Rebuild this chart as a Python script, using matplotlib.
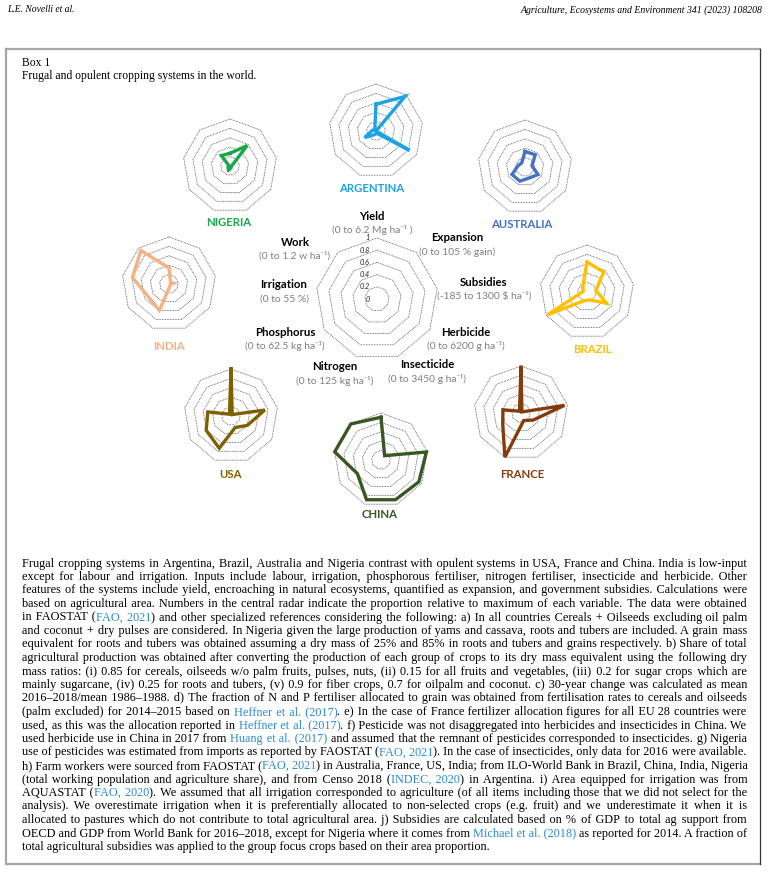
import numpy as np
import matplotlib
matplotlib.use("Agg")
import matplotlib.pyplot as plt
from matplotlib.font_manager import FontProperties
from matplotlib.transforms import offset_copy
from matplotlib.lines import Line2D

W, H = 771, 882
DPI = 100

# ---------------- data ----------------
variables = ["Yield", "Expansion", "Subsidies", "Herbicide", "Insecticide",
             "Nitrogen", "Phosphorus", "Irrigation", "Work"]
var_ranges = ["(0 to 6.2 Mg ha⁻¹ )", "(0 to 105 % gain)", "(-185 to 1300 $ ha⁻¹)",
              "(0 to 6200 g ha⁻¹)", "(0 to 3450 g ha⁻¹)", "(0 to 125 kg ha⁻¹)",
              "(0 to 62.5 kg ha⁻¹)", "(0 to 55 %)", "(0 to 1.2 w ha⁻¹)"]
ring_levels = [0.2, 0.4, 0.6, 0.8, 1.0]
ring_labels = ["0", "0.2", "0.4", "0.6", "0.8", "1"]

countries = ["ARGENTINA", "NIGERIA", "AUSTRALIA", "INDIA", "BRAZIL",
             "USA", "FRANCE", "CHINA"]
colors = ["#1BA3E3", "#17A84B", "#4472C4", "#F4B183", "#FFC000",
          "#7F6000", "#843C0C", "#385723"]

# proportion of maximum, order as `variables`
argentina = [0.57, 0.96, 0.00, 0.82, 0.05, 0.08, 0.28, 0.08, 0.04]
nigeria   = [0.27, 0.57, 0.04, 0.03, 0.05, 0.09, 0.05, 0.02, 0.29]
australia = [0.33, 0.34, 0.15, 0.32, 0.25, 0.32, 0.32, 0.15, 0.11]
india     = [0.34, 0.05, 0.10, 0.03, 0.05, 0.60, 0.52, 0.79, 0.93]
brazil    = [0.64, 0.55, 0.19, 0.48, 0.18, 0.20, 0.97, 0.08, 0.14]
usa       = [1.00, 0.04, 0.73, 0.40, 0.26, 0.73, 0.61, 0.50, 0.05]
france    = [0.97, 0.03, 0.94, 0.30, 0.17, 1.00, 0.45, 0.39, 0.05]
china     = [0.91, 0.12, 0.98, 0.93, 0.90, 0.90, 0.58, 1.00, 1.00]
country_values = [argentina, nigeria, australia, india, brazil, usa, france, china]

caption_lines = [
    "Frugal cropping systems in Argentina, Brazil, Australia and Nigeria contrast with opulent systems in USA, France and China. India is low-input",
    "except for labour and irrigation. Inputs include labour, irrigation, phosphorous fertiliser, nitrogen fertiliser, insecticide and herbicide. Other",
    "features of the systems include yield, encroaching in natural ecosystems, quantified as expansion, and government subsidies. Calculations were",
    "based on agricultural area. Numbers in the central radar indicate the proportion relative to maximum of each variable. The data were obtained",
    "in FAOSTAT ({FAO, 2021}) and other specialized references considering the following: a) In all countries Cereals + Oilseeds excluding oil palm",
    "and coconut + dry pulses are considered. In Nigeria given the large production of yams and cassava, roots and tubers are included. A grain mass",
    "equivalent for roots and tubers was obtained assuming a dry mass of 25% and 85% in roots and tubers and grains respectively. b) Share of total",
    "agricultural production was obtained after converting the production of each group of crops to its dry mass equivalent using the following dry",
    "mass ratios: (i) 0.85 for cereals, oilseeds w/o palm fruits, pulses, nuts, (ii) 0.15 for all fruits and vegetables, (iii) 0.2 for sugar crops which are",
    "mainly sugarcane, (iv) 0.25 for roots and tubers, (v) 0.9 for fiber crops, 0.7 for oilpalm and coconut. c) 30-year change was calculated as mean",
    "2016–2018/mean 1986–1988. d) The fraction of N and P fertiliser allocated to grain was obtained from fertilisation rates to cereals and oilseeds",
    "(palm excluded) for 2014–2015 based on {Heffner et al. (2017)}. e) In the case of France fertilizer allocation figures for all EU 28 countries were",
    "used, as this was the allocation reported in {Heffner et al. (2017)}. f) Pesticide was not disaggregated into herbicides and insecticides in China. We",
    "used herbicide use in China in 2017 from {Huang et al. (2017)} and assumed that the remnant of pesticides corresponded to insecticides. g) Nigeria",
    "use of pesticides was estimated from imports as reported by FAOSTAT ({FAO, 2021}). In the case of insecticides, only data for 2016 were available.",
    "h) Farm workers were sourced from FAOSTAT ({FAO, 2021}) in Australia, France, US, India; from ILO-World Bank in Brazil, China, India, Nigeria",
    "(total working population and agriculture share), and from Censo 2018 ({INDEC, 2020}) in Argentina. i) Area equipped for irrigation was from",
    "AQUASTAT ({FAO, 2020}). We assumed that all irrigation corresponded to agriculture (of all items including those that we did not select for the",
    "analysis). We overestimate irrigation when it is preferentially allocated to non-selected crops (e.g. fruit) and we underestimate it when it is",
    "allocated to pastures which do not contribute to total agricultural area. j) Subsidies are calculated based on % of GDP to total ag support from",
    "OECD and GDP from World Bank for 2016–2018, except for Nigeria where it comes from {Michael et al. (2018)} as reported for 2014. A fraction of",
    "total agricultural subsidies was applied to the group focus crops based on their area proportion.",
]

# ---------------- layout (pixels) ----------------
chart_centers = [(376, 131), (230, 166), (525, 167), (169, 284), (587, 292),
                 (231, 416), (521, 413), (381, 460)]
label_pos = [(372, 188), (229, 223), (522, 225), (169, 346), (592, 350),
             (231, 474), (522, 474), (380, 514)]
R_SMALL = 47
CENTER = (377, 299)
R_CENTER = 61
var_label_pos = [(372, 216), (457, 238), (484, 282), (466, 332), (427, 365),
                 (335, 367), (285, 332), (284, 285), (295, 242)]

fig = plt.figure(figsize=(W / DPI, H / DPI), dpi=DPI)
fig.patch.set_facecolor("white")

def fx(x):
    return x / W

def fy(y):
    return 1 - y / H

SANS = ["Lato", "DejaVu Sans"]
SERIF = ["Liberation Serif", "DejaVu Serif"]

theta = np.arange(len(variables)) * 2 * np.pi / len(variables)
theta_c = np.append(theta, theta[0])

def radar_axes(cx, cy, R):
    ax = fig.add_axes([fx(cx - R), fy(cy + R), 2 * R / W, 2 * R / H],
                      projection="polar")
    ax.set_theta_zero_location("N")
    ax.set_theta_direction(-1)
    ax.set_ylim(0, 1)
    ax.set_axis_off()
    for r in ring_levels:
        ax.plot(theta_c, [r] * len(theta_c), color="#3a3a3a", lw=0.55,
                ls=(0, (1.0, 1.1)), clip_on=False)
    return ax

# small radars
for name, vals, col, (cx, cy), (lx, ly) in zip(countries, country_values, colors,
                                                 chart_centers, label_pos):
    ax = radar_axes(cx, cy, R_SMALL)
    v = np.append(vals, vals[0])
    ax.plot(theta_c, v, color=col, lw=2.4, solid_joinstyle="miter",
            clip_on=False, zorder=5)
    fig.text(fx(lx), fy(ly), name, color=col, fontsize=8.2, fontweight="bold",
             family=SANS, ha="center", va="center")

# central radar
axc = radar_axes(CENTER[0], CENTER[1], R_CENTER)
tr = offset_copy(axc.transData, fig=fig, x=-7, y=0, units="dots")
for lab, r in zip(ring_labels, [0.0] + ring_levels):
    axc.text(0, r, lab, transform=tr, ha="right", va="center", fontsize=5.2,
             style="italic", family=SANS, color="#222222")

for name, rng, (lx, ly) in zip(variables, var_ranges, var_label_pos):
    fig.text(fx(lx), fy(ly), name, fontsize=8.2, fontweight="bold",
             family=SANS, ha="center", va="center", color="black")
    fig.text(fx(lx), fy(ly + 14), rng, fontsize=7.4, family=SANS,
             ha="center", va="center", color="#7f7f7f")

# ---------------- page furniture ----------------
fig.text(fx(7), fy(10), "L.E. Novelli et al.", fontsize=6.9, style="italic",
         family=SERIF, ha="left", va="center")
fig.text(fx(762), fy(10), "Agriculture, Ecosystems and Environment 341 (2023) 108208",
         fontsize=7.0, style="italic", family=SERIF, ha="right", va="center")

bx0, bx1, by0, by1 = 6, 760, 48.5, 863.5
fig.add_artist(Line2D([fx(bx0), fx(bx1)], [fy(by0), fy(by0)], color="#a6a6a6",
                      lw=1.6, transform=fig.transFigure))
fig.add_artist(Line2D([fx(bx0), fx(bx1)], [fy(by1), fy(by1)], color="#a6a6a6",
                      lw=1.6, transform=fig.transFigure))
fig.add_artist(Line2D([fx(bx0), fx(bx0)], [fy(by0), fy(by1)], color="#a6a6a6",
                      lw=1.6, transform=fig.transFigure))
fig.add_artist(Line2D([fx(bx1), fx(bx1)], [fy(by0), fy(by1)], color="#333333",
                      lw=0.9, transform=fig.transFigure))

fig.text(fx(22), fy(63.5), "Box 1", fontsize=8.4, family=SERIF, ha="left", va="center")
fig.text(fx(22), fy(76), "Frugal and opulent cropping systems in the world.",
         fontsize=8.4, family=SERIF, ha="left", va="center")

# ---------------- justified caption ----------------
renderer = fig.canvas.get_renderer()
LINK = "#2B8AD0"
X0, X1 = 22, 747
Y_FIRST, Y_STEP = 563, 13.5

def parse(line):
    words, link = [], False
    for tok in line.split(" "):
        segs, cur = [], ""
        for ch in tok:
            if ch in "{}":
                if cur:
                    segs.append((cur, link))
                cur = ""
                link = ch == "{"
            else:
                cur += ch
        if cur:
            segs.append((cur, link))
        words.append(segs)
    return words

def width(s, fp):
    return renderer.get_text_width_height_descent(s, fp, ismath=False)[0]

parsed = [parse(l) for l in caption_lines]

def natural_max(size):
    f = FontProperties(family=SERIF, size=size)
    s = width("a a", f) - width("aa", f)
    m = 0
    for words in parsed[:-1]:
        wsum = sum(width(t, f) for w in words for t, _ in w)
        m = max(m, wsum + s * (len(words) - 1))
    return m

cap_size = 10.0
m = natural_max(cap_size)
cap_size *= (X1 - X0) / m * 0.998
fp = FontProperties(family=SERIF, size=cap_size)
sp_adv = width("a a", fp) - width("aa", fp)
fine_ch, fine_adv = None, None
for ch in ["\u200a", "\u2006", "\u2009"]:
    a = width("a" + ch + "a", fp) - width("aa", fp)
    if a > 0.3 and (fine_adv is None or a < fine_adv):
        fine_ch, fine_adv = ch, a

def spacer(g):
    n = max(1, int(g // sp_adv))
    if fine_ch is None:
        return " " * max(1, int(round(g / sp_adv)))
    k = max(0, int(round((g - n * sp_adv) / fine_adv)))
    return " " * n + fine_ch * k

for i, words in enumerate(parsed):
    yb = Y_FIRST + i * Y_STEP + 3.5
    wws = [sum(width(s, fp) for s, _ in w) for w in words]
    justify = i < len(parsed) - 1 and len(words) > 1
    runs = []  # [x_start, text, color]
    x_end = X0
    for wi, w in enumerate(words):
        if wi == 0:
            g = 0.0
        elif justify:
            g = (X1 - x_end - sum(wws[wi:])) / (len(words) - wi)
        else:
            g = sp_adv
        for si, (s, lk) in enumerate(w):
            col = LINK if lk else "black"
            if si == 0:
                if runs and runs[-1][2] == col:
                    runs[-1][1] = runs[-1][1] + spacer(g) + s
                else:
                    runs.append([x_end + g, s, col])
            else:
                rx, rs, _ = runs[-1]
                nx = rx + width(rs + s, fp) - width(s, fp)
                runs.append([nx, s, col])
            x_end = runs[-1][0] + width(runs[-1][1], fp)
    for rx, rs, col in runs:
        fig.text(fx(rx), fy(yb), rs, fontproperties=fp, ha="left",
                 va="baseline", color=col)

fig.savefig("out.png", dpi=DPI, facecolor="white")
